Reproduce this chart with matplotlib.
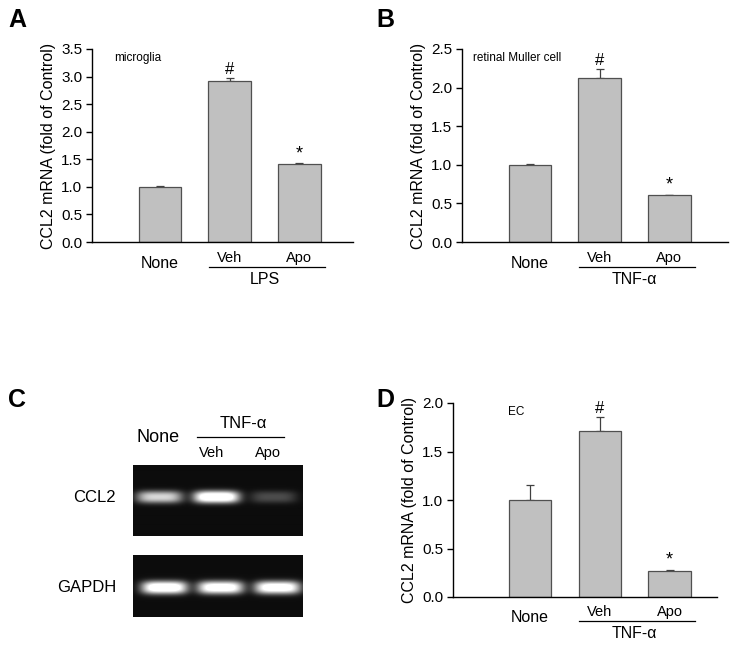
import numpy as np
import matplotlib
matplotlib.use("Agg")
import matplotlib.pyplot as plt
import matplotlib.transforms as mtransforms
from matplotlib.lines import Line2D

plt.rcParams['font.family'] = ['Liberation Sans', 'DejaVu Sans']

# ---------------- data ----------------
groups = ["None", "Veh", "Apo"]
a_values = [1.00, 2.92, 1.42]
a_errors = [0.01, 0.06, 0.01]
b_values = [1.00, 2.13, 0.61]
b_errors = [0.005, 0.11, 0.005]
d_values = [1.00, 1.71, 0.27]
d_errors = [0.15, 0.15, 0.01]
a_marks = ["", "#", "*"]
b_marks = ["", "#", "*"]
d_marks = ["", "#", "*"]
a_ticks = [0.0, 0.5, 1.0, 1.5, 2.0, 2.5, 3.0, 3.5]
b_ticks = [0.0, 0.5, 1.0, 1.5, 2.0, 2.5]
d_ticks = [0.0, 0.5, 1.0, 1.5, 2.0]
gel_ccl2 = [0.80, 1.20, 0.25]
gel_gapdh = [1.15, 1.10, 1.10]
gel_lanes = ["None", "Veh", "Apo"]

W, H = 736, 648
fig = plt.figure(figsize=(W / 100, H / 100), dpi=100)
fig.patch.set_facecolor("white")


def fx(x):
    return x / W


def fy(y):
    return 1 - y / H


def rect(l, t, r, b):
    return [fx(l), fy(b), fx(r) - fx(l), fy(t) - fy(b)]


def bar_panel(box, xlim, values, errors, marks, yticks, ylim, note, note_xy,
              stim, ypx):
    ax = fig.add_axes(box)
    x = np.arange(1, len(values) + 1)
    ax.bar(x, values, width=0.61, color="#c0c0c0", edgecolor="#505050",
           linewidth=0.9, zorder=2)
    ax.errorbar(x, values, yerr=[np.zeros(len(errors)), errors], fmt="none",
                ecolor="#404040", elinewidth=0.9, capsize=3, capthick=0.9,
                zorder=1)
    ax.set_xlim(*xlim)
    ax.set_ylim(*ylim)
    ax.set_yticks(yticks)
    ax.set_yticklabels([f"{t:.1f}" for t in yticks])
    ax.set_xticks([])
    for s in ["top", "right"]:
        ax.spines[s].set_visible(False)
    for s in ["left", "bottom"]:
        ax.spines[s].set_linewidth(1.0)
    ax.tick_params(axis="y", direction="out", length=4, width=1.0,
                   labelsize=11, pad=3)
    ax.set_ylabel("CCL2 mRNA (fold of Control)", fontsize=11.5, labelpad=4)
    span = ylim[1] - ylim[0]
    for xi, v, e, m in zip(x, values, errors, marks):
        if m:
            ax.text(xi, v + e + span * 0.005, m, ha="center", va="bottom",
                    fontsize=13 if m == "*" else 12, zorder=3)
    ax.text(note_xy[0], note_xy[1], note, transform=ax.transAxes,
            fontsize=8.5, ha="left", va="top")
    tr = mtransforms.blended_transform_factory(ax.transData, fig.transFigure)
    y_none, y_sub, y_line, y_stim = ypx
    ax.text(1, fy(y_none), groups[0], transform=tr, ha="center",
            va="center", fontsize=11.5, clip_on=False)
    ax.text(2, fy(y_sub), groups[1], transform=tr, ha="center",
            va="center", fontsize=10.5, clip_on=False)
    ax.text(3, fy(y_sub), groups[2], transform=tr, ha="center",
            va="center", fontsize=10.5, clip_on=False)
    ax.add_line(Line2D([1.70, 3.37], [fy(y_line), fy(y_line)], transform=tr,
                       color="black", linewidth=0.9, clip_on=False))
    ax.text(2.5, fy(y_stim), stim, transform=tr, ha="center", va="center",
            fontsize=11.5, clip_on=False)
    return ax


# Panel A
bar_panel(rect(92, 49, 353, 242), (0.024, 3.77), a_values, a_errors, a_marks,
          a_ticks, (0, 3.5), "microglia", (0.083, 0.985), "LPS",
          (264, 258, 267, 279))
# Panel B
bar_panel(rect(462, 49, 728, 242), (0.024, 3.84), b_values, b_errors, b_marks,
          b_ticks, (0, 2.5), "retinal Muller cell", (0.04, 0.985), "TNF-α",
          (264, 258, 267, 280))
# Panel D
bar_panel(rect(453, 403, 717, 597), (-0.105, 3.68), d_values, d_errors,
          d_marks, d_ticks, (0, 2.0), "EC", (0.21, 0.985), "TNF-α",
          (618, 612, 621, 633))


# Panel C: gel images built from band intensities
def gel_image(intens, nx, ny, centers, yc, sx, sy):
    xx = np.arange(nx)[None, :]
    yy = np.arange(ny)[:, None]
    img = np.full((ny, nx), 0.05)
    for c, a in zip(centers, intens):
        prof_x = np.exp(-np.abs((xx - c) / sx) ** 4)
        prof_y = np.exp(-np.abs((yy - yc) / sy) ** 2.5)
        img = img + a * prof_x * prof_y
    return np.clip(img, 0, 1)


ax_g1 = fig.add_axes(rect(133, 465, 303, 536))
img1 = gel_image(gel_ccl2, 170, 71, [26, 83, 140], 32, 23, 6)
ax_g1.imshow(img1, cmap="gray", vmin=0, vmax=1, aspect="auto",
             interpolation="bilinear")
ax_g1.axis("off")

ax_g2 = fig.add_axes(rect(133, 555, 303, 617))
img2 = gel_image(gel_gapdh, 170, 62, [31, 87, 144], 32, 23, 6.5)
ax_g2.imshow(img2, cmap="gray", vmin=0, vmax=1, aspect="auto",
             interpolation="bilinear")
ax_g2.axis("off")

fig.text(fx(158), fy(437), gel_lanes[0], ha="center", va="center", fontsize=13)
fig.text(fx(243), fy(423), "TNF-α", ha="center", va="center", fontsize=12)
fig.add_artist(Line2D([fx(197), fx(284)], [fy(437), fy(437)],
                      transform=fig.transFigure, color="black", linewidth=0.9))
fig.text(fx(212), fy(453), gel_lanes[1], ha="center", va="center", fontsize=10.5)
fig.text(fx(268), fy(453), gel_lanes[2], ha="center", va="center", fontsize=10.5)
fig.text(fx(116), fy(498), "CCL2", ha="right", va="center", fontsize=12)
fig.text(fx(116), fy(588), "GAPDH", ha="right", va="center", fontsize=12)

# Panel letters
for lab, (px, py) in zip("ABCD", [(17, 20), (385, 20), (17, 400), (385, 400)]):
    fig.text(fx(px), fy(py), lab, ha="center", va="center", fontsize=18,
             fontweight="bold")

fig.savefig("out.png", dpi=100, facecolor="white")
